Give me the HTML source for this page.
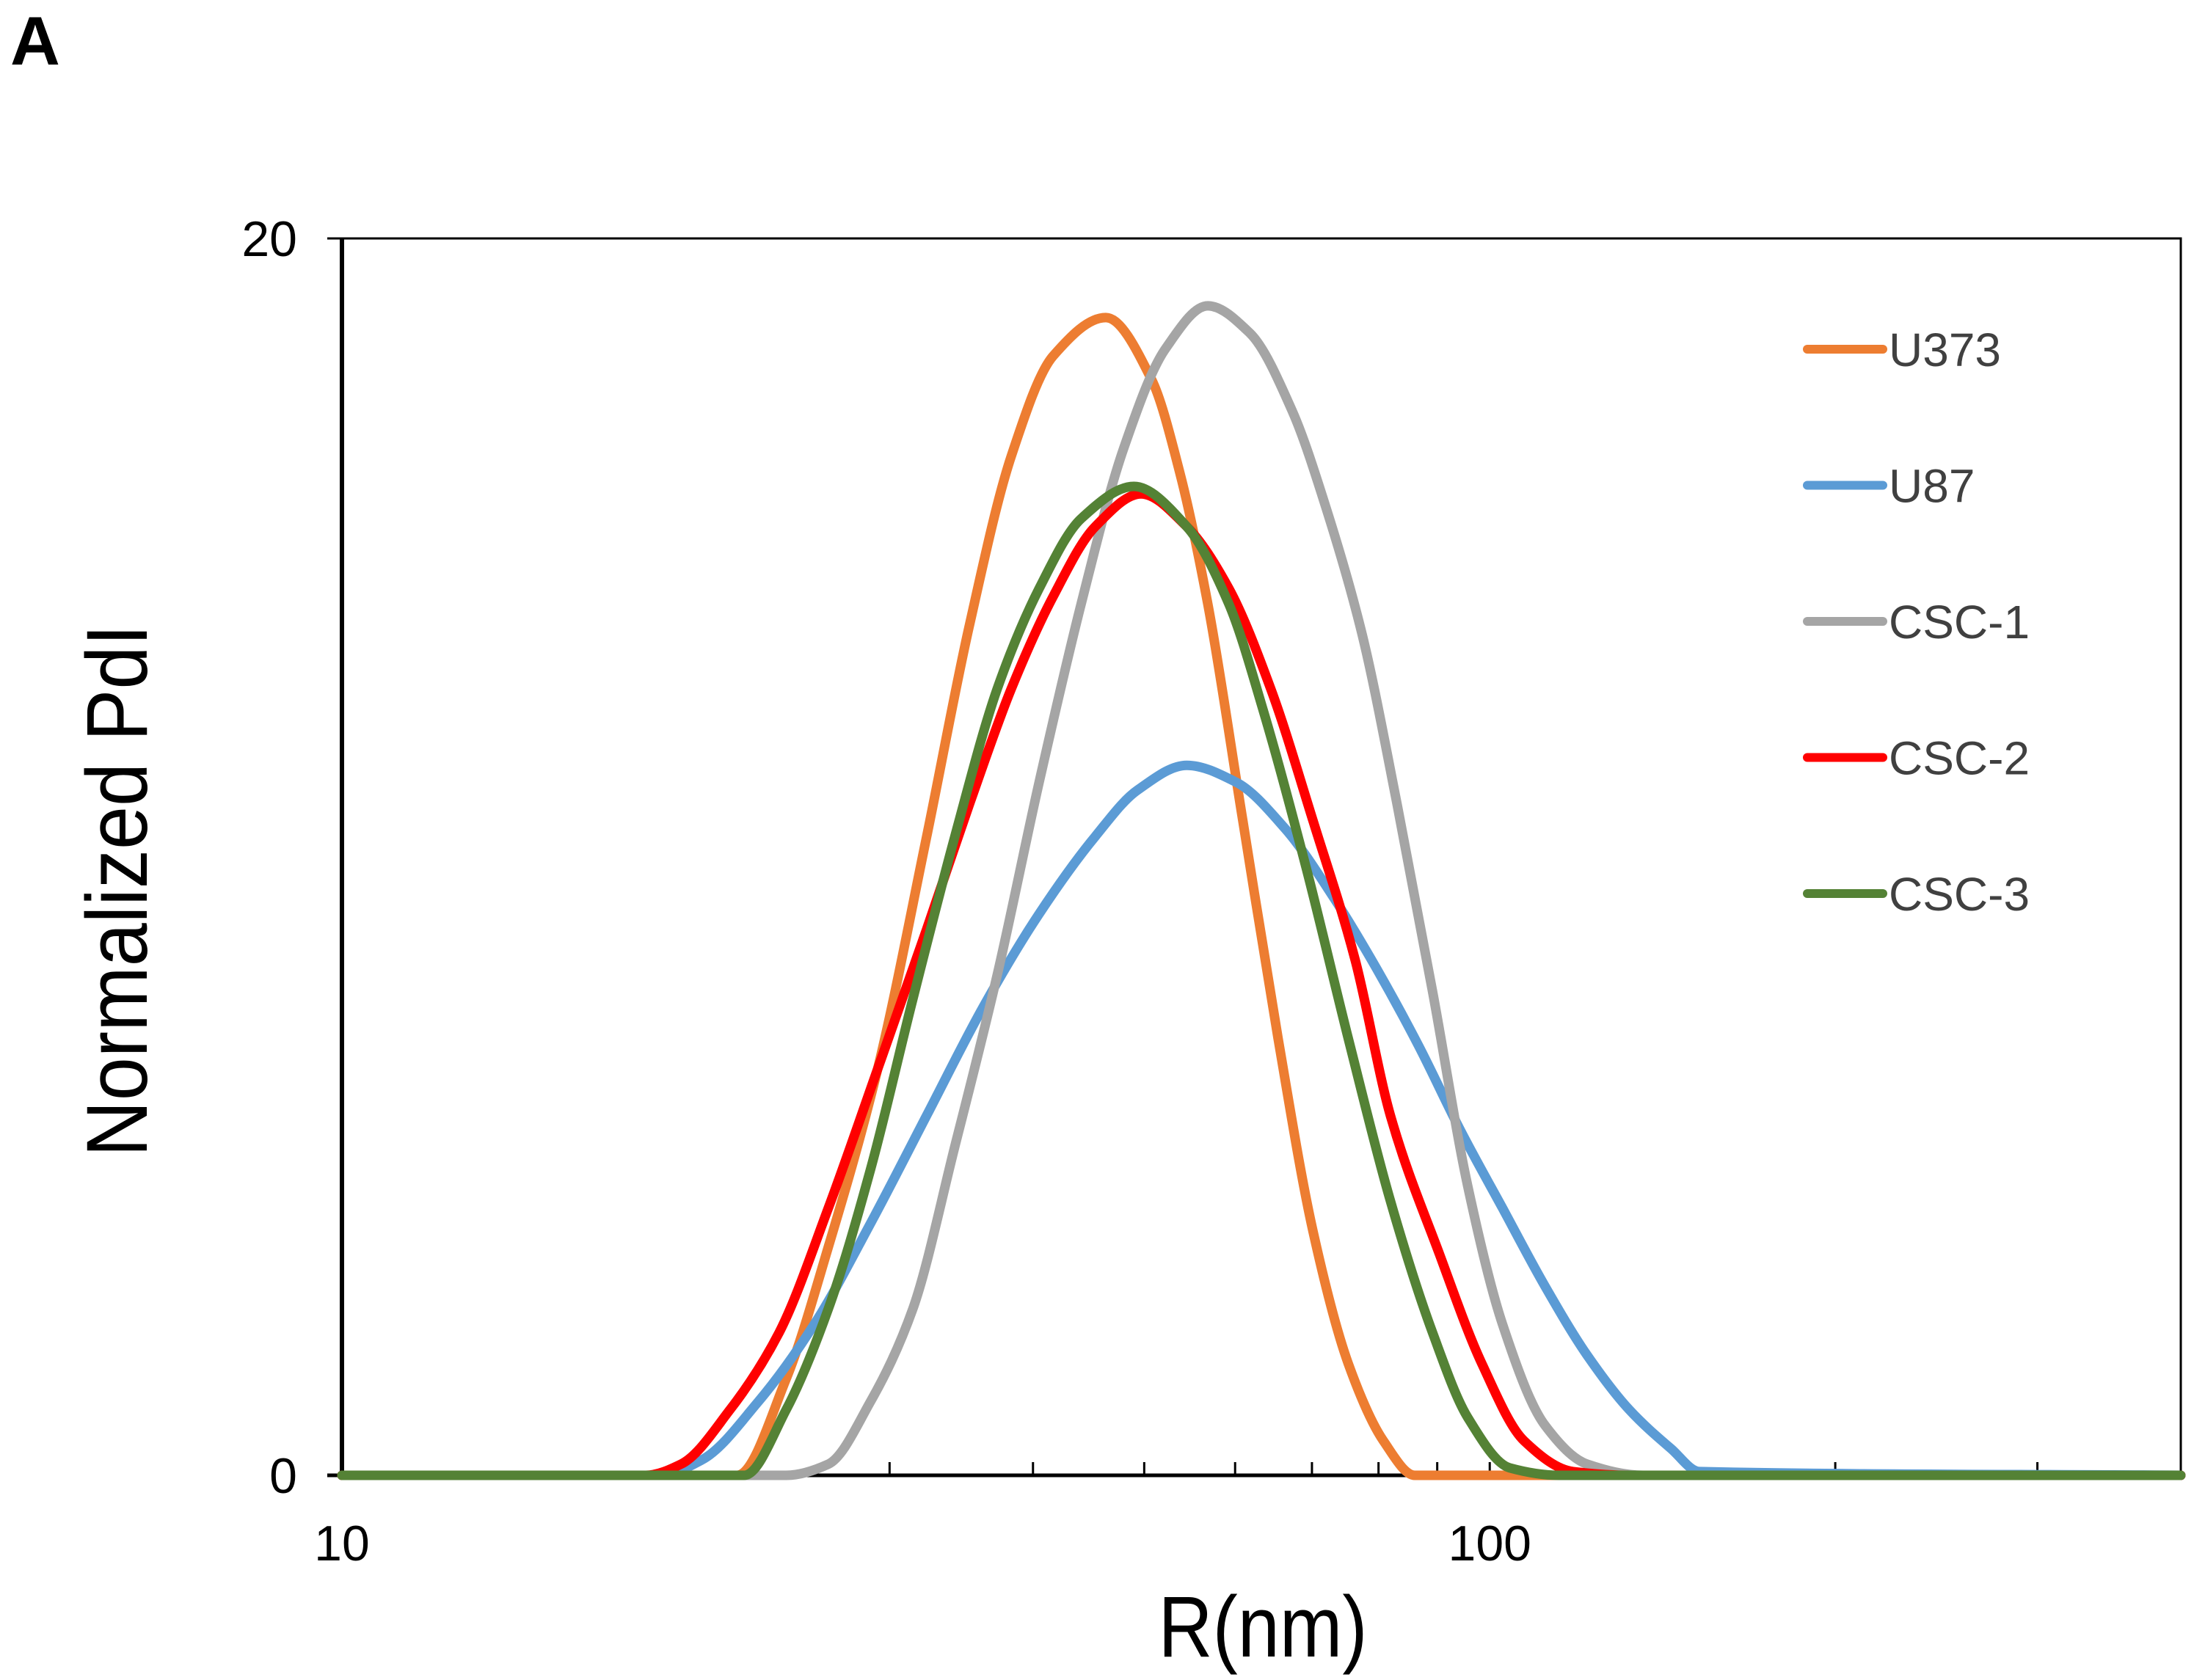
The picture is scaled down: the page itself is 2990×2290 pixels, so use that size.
<!DOCTYPE html>
<html><head><meta charset="utf-8">
<style>
html,body{margin:0;padding:0;background:#fff;}
svg{display:block;font-family:"Liberation Sans",Arial,sans-serif;}
</style></head>
<body>
<svg id="chart" width="2990" height="2290" viewBox="0 0 2990 2290" xmlns="http://www.w3.org/2000/svg">
  <text x="14" y="88" font-size="94" font-weight="bold" fill="#000">A</text>
  <rect x="466" y="325" width="2506" height="1686" fill="none" stroke="#000" stroke-width="3"/>
  <g id="axes"></g>
  <g id="series"></g>
  <g id="legend"></g>
  <text transform="translate(1721,2258) scale(0.87,1)" font-size="118" text-anchor="middle" fill="#000">R(nm)</text>
  <text transform="translate(200,1214) rotate(-90) scale(0.9,1)" font-size="118" text-anchor="middle" fill="#000">Normalized PdI</text>
</svg>
<script>
const xTickMajor = [10, 100];
const xTickMinor = [20, 30, 40, 50, 60, 70, 80, 90, 200, 300];
const yTicks = [0, 20];
const seriesNames = ["U373", "U87", "CSC-1", "CSC-2", "CSC-3"];
const seriesColors = ["#ed7d31", "#5b9bd5", "#a5a5a5", "#ff0000", "#548235"];
const u373X = [10, 22.1, 24.38, 26.53, 29.29, 32.32, 35.18, 38.28, 41.65, 46.29, 50.74, 53.69, 56.80, 60.94, 65.39, 70.16, 75.28, 80.78, 86.06, 400];
const u373Y = [0, 0, 1.56, 3.69, 6.57, 10.33, 13.71, 16.47, 18.10, 18.72, 17.72, 16.22, 14.09, 10.58, 7.07, 3.94, 1.81, 0.56, 0, 0];
const u87X = [10, 18.92, 20.59, 23.05, 25.79, 28.87, 32.32, 36.19, 40.50, 45.32, 49.33, 54.45, 60.09, 66.31, 73.19, 79.65, 86.68, 94.33, 102.6, 111.7, 121.6, 132.3, 143.9, 152.3, 400];
const u87Y = [0, 0, 0.25, 1.19, 2.44, 4.07, 5.82, 7.57, 9.08, 10.33, 11.08, 11.48, 11.21, 10.46, 9.33, 8.20, 6.95, 5.57, 4.32, 3.06, 1.94, 1.06, 0.43, 0.06, 0];
const csc1X = [10, 24.38, 26.53, 28.87, 31.43, 34.20, 37.22, 40.50, 44.06, 47.95, 52.19, 56.80, 61.80, 67.25, 72.16, 77.43, 83.08, 89.15, 95.65, 102.6, 111.7, 121.6, 136.1, 400];
const csc1Y = [0, 0, 0.18, 1.19, 2.69, 5.32, 8.08, 11.21, 14.09, 16.59, 18.22, 18.91, 18.47, 17.22, 15.59, 13.59, 10.83, 7.83, 4.69, 2.44, 0.81, 0.18, 0, 0];
const csc2X = [10, 18.40, 19.74, 21.78, 24.04, 26.53, 29.29, 32.32, 35.18, 38.28, 41.65, 45.32, 49.68, 54.45, 59.25, 64.47, 70.16, 76.35, 81.92, 90.43, 98.40, 107.1, 118.2, 132.3, 400];
const csc2Y = [0, 0, 0.18, 1.06, 2.31, 4.32, 6.57, 8.83, 10.83, 12.71, 14.21, 15.34, 15.87, 15.34, 14.34, 12.71, 10.58, 8.33, 5.82, 3.57, 1.81, 0.56, 0.06, 0, 0];
const csc3X = [10, 22.41, 24.38, 26.53, 28.87, 31.43, 34.20, 37.22, 40.50, 44.06, 48.98, 54.45, 59.25, 63.57, 69.18, 75.28, 81.92, 89.15, 95.65, 104.1, 114.9, 400];
const csc3Y = [0, 0, 1.06, 2.69, 4.94, 7.70, 10.33, 12.71, 14.34, 15.47, 15.99, 15.34, 14.09, 12.33, 9.83, 7.07, 4.44, 2.31, 0.94, 0.12, 0, 0];

const PL = 466, PR = 2972, PT = 325, PB = 2011;
const X0 = 10, X1 = 400, Y0 = 0, Y1 = 20;
function xPos(v){ return PL + (Math.log10(v) - Math.log10(X0)) / (Math.log10(X1) - Math.log10(X0)) * (PR - PL); }
function yPos(v){ return PB - (v - Y0) / (Y1 - Y0) * (PB - PT); }
const NS = "http://www.w3.org/2000/svg";
function mk(tag, attrs){ const e = document.createElementNS(NS, tag); for (const k in attrs) e.setAttribute(k, attrs[k]); return e; }

const axes = document.getElementById('axes');
const yAxisLine = mk('line', {x1: PL, y1: PT, x2: PL, y2: PB, stroke: '#000', 'stroke-width': 6});


axes.appendChild(yAxisLine);
const xAxisLine = mk('line', {x1: PL - 20, y1: PB, x2: PR, y2: PB, stroke: '#000', 'stroke-width': 5});


axes.appendChild(xAxisLine);
yTicks.forEach(t => {
  const tk = mk('line', {x1: PL - 20, y1: yPos(t), x2: PL, y2: yPos(t), stroke: '#000', 'stroke-width': 3});
  
  
  axes.appendChild(tk);
  const lb = mk('text', {x: 405, y: yPos(t) + 24, 'font-size': 68, 'text-anchor': 'end', fill: '#000'});
  lb.textContent = String(t);
  
  
  axes.appendChild(lb);
});
xTickMinor.concat(xTickMajor).forEach(t => {
  const tk = mk('line', {x1: xPos(t), y1: PB, x2: xPos(t), y2: PB - 18, stroke: '#000', 'stroke-width': 3});
  
  
  axes.appendChild(tk);
});
xTickMajor.forEach(t => {
  const lb = mk('text', {x: xPos(t), y: 2127, 'font-size': 68, 'text-anchor': 'middle', fill: '#000'});
  lb.textContent = String(t);
  
  
  axes.appendChild(lb);
});

function monoPath(px, py){
  const n = px.length, d = [], m = [];
  for (let i = 0; i < n - 1; i++) d.push((py[i+1] - py[i]) / (px[i+1] - px[i]));
  for (let i = 0; i < n; i++){
    if (i === 0) m.push(d[0]); else if (i === n - 1) m.push(d[n-2]);
    else if (d[i-1] * d[i] <= 0) m.push(0);
    else { const w1 = 2*(px[i+1]-px[i]) + (px[i]-px[i-1]), w2 = (px[i+1]-px[i]) + 2*(px[i]-px[i-1]); m.push((w1 + w2) / (w1 / d[i-1] + w2 / d[i])); }
  }
  let s = 'M' + px[0].toFixed(1) + ',' + py[0].toFixed(1);
  for (let i = 0; i < n - 1; i++){
    const h = (px[i+1] - px[i]) / 3;
    s += ' C' + (px[i]+h).toFixed(1) + ',' + (py[i]+m[i]*h).toFixed(1) + ' ' + (px[i+1]-h).toFixed(1) + ',' + (py[i+1]-m[i+1]*h).toFixed(1) + ' ' + px[i+1].toFixed(1) + ',' + py[i+1].toFixed(1);
  }
  return s;
}
const seriesData = [[u373X, u373Y], [u87X, u87Y], [csc1X, csc1Y], [csc2X, csc2Y], [csc3X, csc3Y]];
const sg = document.getElementById('series');
seriesData.forEach((sd, i) => {
  const px = sd[0].map(xPos), py = sd[1].map(yPos);
  const p = mk('path', {d: monoPath(px, py), fill: 'none', stroke: seriesColors[i], 'stroke-width': 13, 'stroke-linejoin': 'round', 'stroke-linecap': 'round'});
  
  
  sg.appendChild(p);
});

const lg = document.getElementById('legend');
seriesNames.forEach((nm, i) => {
  const y = 476 + i * 185.5;
  const ln = mk('line', {x1: 2463, y1: y, x2: 2566, y2: y, stroke: seriesColors[i], 'stroke-width': 12, 'stroke-linecap': 'round'});
  
  
  lg.appendChild(ln);
  const tx = mk('text', {x: 2574, y: y + 23, 'font-size': 64, fill: '#404040'});
  tx.textContent = nm;
  
  
  lg.appendChild(tx);
});
</script>
</body></html>
